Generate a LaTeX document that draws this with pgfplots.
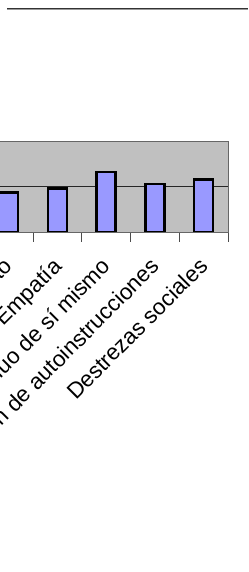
\documentclass[border=0pt]{standalone}
\usepackage{pgfplots}
\pgfplotsset{compat=1.18}
\usepackage{fontspec}
\setmainfont{Liberation Sans}
\definecolor{plotgray}{HTML}{C0C0C0}
\definecolor{barblue}{HTML}{9999FF}
\begin{document}
\begin{tikzpicture}[x=1bp,y=1bp]
\useasboundingbox (0,0) rectangle (248,572);
\clip (0,0) rectangle (248,572);
\draw[line width=1.5bp, color=black!80] (7,563.5) -- (248,563.5);
\draw[line width=0.8bp, color=black!40] (7,562.3) -- (248,562.3);
\begin{axis}[
  at={(-15.85bp,340bp)}, anchor=south west,
  scale only axis, width=243.85bp, height=91bp,
  xmin=-0.5, xmax=4.5, ymin=0, ymax=2,
  axis background/.style={fill=plotgray},
  axis line style={draw=black!60, line width=0.8bp},
  xtick={0,1,2,3,4},
  xticklabels={Autoconcepto, Empatía, Conocimiento continuo de sí mismo, Utilización de autoinstrucciones, Destrezas sociales},
  minor xtick={-0.5,0.5,1.5,2.5,3.5,4.5},
  major tick length=0pt,
  minor tick length=10bp,
  tick align=outside,
  xtick pos=bottom,
  ytick={0,1,2}, yticklabels={},
  ytick pos=left,
  ymajorgrids,
  major grid style={draw=black!85, line width=0.8bp},
  minor tick style={draw=black!70, line width=0.8bp},
  xticklabel style={xshift=-6bp, yshift=-24bp, rotate=45, anchor=north east, inner sep=0pt,
    font=\fontsize{22.5}{22.5}\selectfont},
]
\addplot[ybar, bar width=19bp, fill=barblue, draw=black, line width=2.5bp]
  coordinates {(0,0.87) (1,0.96) (2,1.32) (3,1.06) (4,1.15)};
\end{axis}
\end{tikzpicture}
\end{document}
